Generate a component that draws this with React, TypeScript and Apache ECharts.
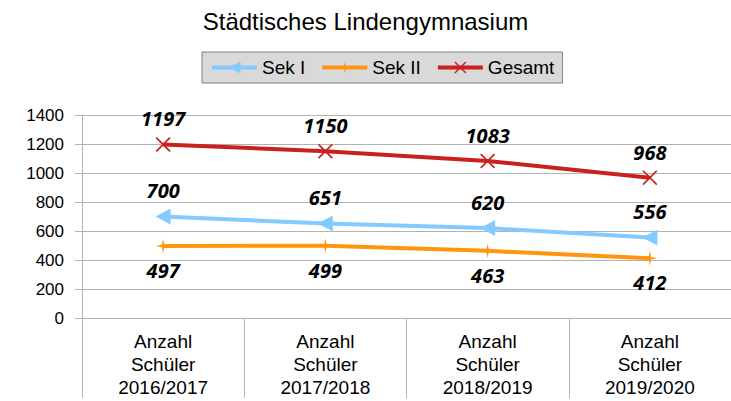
import React, { useEffect, useRef } from "react";
import * as echarts from "echarts";

const titleText = "Städtisches Lindengymnasium";
const categories = [
  "Anzahl\nSchüler\n2016/2017",
  "Anzahl\nSchüler\n2017/2018",
  "Anzahl\nSchüler\n2018/2019",
  "Anzahl\nSchüler\n2019/2020",
];
const sekI = [700, 651, 620, 556];
const sekII = [497, 499, 463, 412];
const gesamt = [1197, 1150, 1083, 968];
const yMin = 0;
const yMax = 1400;
const yInterval = 200;

const ARROW = "path://M0,5 L10,0 L10,10 Z";
const STAR = "path://M5,0 L5.8,4.2 L10,5 L5.8,5.8 L5,10 L4.2,5.8 L0,5 L4.2,4.2 Z";
const CROSS =
  "path://M0,0.8 L0.8,0 L5,4.2 L9.2,0 L10,0.8 L5.8,5 L10,9.2 L9.2,10 L5,5.8 L0.8,10 L0,9.2 L4.2,5 Z";

export default function App() {
  const ref = useRef<HTMLDivElement>(null);
  useEffect(() => {
    if (!ref.current) return;
    const chart = echarts.init(ref.current, undefined, { renderer: "svg" });
    const labelStyle = {
      show: true,
      fontFamily: "Open Sans",
      fontWeight: "bold",
      fontStyle: "italic",
      fontSize: 20,
      color: "#000",
    };
    chart.setOption({
      animation: false,
      backgroundColor: "#fff",
      title: {
        text: titleText,
        left: "center",
        top: 4,
        textStyle: {
          fontFamily: "Liberation Sans",
          fontWeight: "normal",
          fontSize: 24,
          color: "#000",
        },
      },
      legend: {
        left: 202,
        top: 52,
        itemWidth: 45,
        itemHeight: 15,
        itemGap: 15,
        padding: [6, 8],
        backgroundColor: "#d9d9d9",
        borderColor: "#7f7f7f",
        borderWidth: 1,
        borderRadius: 0,
        lineStyle: { width: 4 },
        textStyle: {
          fontFamily: "Liberation Sans",
          fontSize: 19,
          color: "#000",
        },
        data: ["Sek I", "Sek II", "Gesamt"],
      },
      grid: { left: 82, right: -8, top: 115, bottom: 83 },
      xAxis: {
        type: "category",
        data: categories,
        boundaryGap: true,
        axisLine: { show: true, lineStyle: { color: "#b3b3b3", width: 1 } },
        axisTick: {
          show: true,
          interval: 0,
          length: 80,
          lineStyle: { color: "#b3b3b3", width: 1 },
        },
        axisLabel: {
          interval: 0,
          margin: 12,
          fontFamily: "Liberation Sans",
          fontSize: 19,
          lineHeight: 23,
          color: "#000",
        },
        splitLine: { show: false },
      },
      yAxis: {
        type: "value",
        min: yMin,
        max: yMax,
        interval: yInterval,
        axisLine: { show: true, lineStyle: { color: "#b3b3b3", width: 1 } },
        axisTick: { show: true, length: 7, lineStyle: { color: "#b3b3b3" } },
        axisLabel: {
          margin: 18,
          fontFamily: "Liberation Sans",
          fontSize: 17,
          color: "#000",
          formatter: (v: number) => String(v),
        },
        splitLine: { show: true, lineStyle: { color: "#b3b3b3", width: 1 } },
      },
      series: [
        {
          name: "Sek I",
          type: "line",
          data: sekI,
          symbol: ARROW,
          symbolSize: [15, 16],
          showAllSymbol: true,
          color: "#83caff",
          lineStyle: { width: 4, color: "#83caff" },
          itemStyle: { color: "#83caff" },
          label: { ...labelStyle, position: "top", distance: 8 },
          z: 3,
        },
        {
          name: "Sek II",
          type: "line",
          data: sekII,
          symbol: STAR,
          symbolSize: 15,
          color: "#ff950e",
          lineStyle: { width: 4, color: "#ff950e" },
          itemStyle: { color: "#ff950e" },
          label: { ...labelStyle, position: "bottom", distance: 7 },
          z: 3,
        },
        {
          name: "Gesamt",
          type: "line",
          data: gesamt,
          symbol: CROSS,
          symbolSize: 15,
          color: "#c9211e",
          lineStyle: { width: 4, color: "#c9211e" },
          itemStyle: { color: "#c9211e" },
          label: { ...labelStyle, position: "top", distance: 8 },
          z: 3,
        },
      ],
    });
    return () => chart.dispose();
  }, []);
  return (
    <div
      ref={ref}
      style={{ position: "absolute", left: 0, top: 0, width: 731, height: 401 }}
    />
  );
}
